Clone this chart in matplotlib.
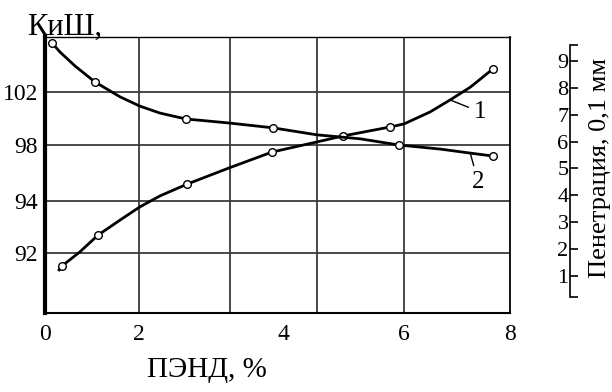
import numpy as np
import matplotlib.pyplot as plt
from matplotlib.ticker import FixedLocator

plt.rcParams['font.family'] = ['Liberation Serif', 'DejaVu Serif']

# curve 1: КиШ vs ПЭНД content
kish_x = [0.30, 0.36, 0.74, 1.13, 1.60, 2.01, 2.29, 2.67, 3.25, 3.85,
          4.56, 4.99, 5.77, 6.00, 6.49, 6.87, 7.25, 7.68]
kish_y = [91.35, 91.5, 92.04, 92.69, 93.27, 93.77, 94.36, 95.21, 96.36, 97.5,
          98.23, 98.68, 99.36, 99.59, 100.49, 101.4, 102.36, 103.75]
kish_marks = [1, 3, 7, 9, 11, 12, 17]

# curve 2: penetration, 0.1 mm
pen_x = [0.15, 0.32, 0.64, 1.06, 1.60, 2.01, 2.29, 2.65, 3.25, 3.86,
         4.56, 5.28, 5.92, 6.68, 7.25, 7.68]
pen_y = [9.67, 9.33, 8.81, 8.22, 7.66, 7.32, 7.06, 6.84, 6.69, 6.51,
         6.25, 6.10, 5.87, 5.72, 5.57, 5.46]
pen_marks = [0, 3, 7, 9, 12, 15]

x_ticks = [0, 2, 4, 6, 8]
x_grid = [2, 3.26, 4.56, 6]
kish_ticks = [102, 98, 94, 92]
pen_ticks = [1, 2, 3, 4, 5, 6, 7, 8, 9]


def piecewise(vals, pos):
    # uneven axis: linear between knots, end slopes carried outward
    v = np.asarray(vals, float)
    p = np.asarray(pos, float)
    v = np.r_[v[0] - 100 * (v[1] - v[0]), v, v[-1] + 100 * (v[-1] - v[-2])]
    p = np.r_[p[0] - 100 * (p[1] - p[0]), p, p[-1] + 100 * (p[-1] - p[-2])]
    return (lambda a: np.interp(a, v, p)), (lambda b: np.interp(b, p, v))


fx, ix = piecewise([0, 2, 4, 6, 8], [0, 94, 238, 359, 465])
fy, iy = piecewise([92, 94, 98, 102], [60, 112, 168, 221])

fig = plt.figure(figsize=(6.12, 3.92), dpi=100)
ax = fig.add_axes([45 / 612, 79 / 392, 465 / 612, 276 / 392])
ax.set_xscale('function', functions=(fx, ix))
ax.set_yscale('function', functions=(fy, iy))
ax.set_xlim(0, 8)
ax.set_ylim(iy(0), iy(276))

for gx in x_grid:
    ax.axvline(gx, color='#3a3a3a', lw=1.3, zorder=1)
for gy in kish_ticks:
    ax.axhline(gy, color='#3a3a3a', lw=1.3, zorder=1)

ax.plot(kish_x, kish_y, color='black', lw=2.0, marker='o', markevery=kish_marks,
        ms=5.5, mfc='white', mec='black', mew=1.0, zorder=3)

ax.set_xticks(x_ticks)
ax.set_xticklabels([str(t) for t in x_ticks])
ax.set_yticks(kish_ticks)
ax.set_yticklabels([str(t) for t in kish_ticks])
ax.xaxis.set_minor_locator(FixedLocator([]))
ax.yaxis.set_minor_locator(FixedLocator([]))
ax.tick_params(axis='x', length=0, pad=8, labelsize=17)
ax.tick_params(axis='y', length=0, pad=5, labelsize=17)

ax.spines['left'].set_linewidth(3)
ax.spines['bottom'].set_linewidth(1.5)
ax.spines['right'].set_linewidth(1.3)
ax.spines['top'].set_linewidth(1.0)

ax.annotate('1', xy=(kish_x[15], kish_y[15]), xytext=(30, -12),
            textcoords='offset pixels', ha='center', va='center', fontsize=18,
            arrowprops=dict(arrowstyle='-', lw=1, color='black', shrinkA=2, shrinkB=0))

# penetration on a separate axis to the right
ax2 = ax.twinx()
ax2.set_ylim(-0.38, 9.89)
for s in ['top', 'bottom', 'right']:
    ax2.spines[s].set_visible(False)
ax2.spines['left'].set_visible(True)
ax2.spines['left'].set_position(('axes', 525 / 465))
ax2.spines['left'].set_bounds(0.21, 9.60)
ax2.spines['left'].set_linewidth(1.2)
ax2.yaxis.tick_left()
ax2.set_yticks(pen_ticks)
ax2.yaxis.set_minor_locator(FixedLocator([0.21, 9.60]))
ax2.tick_params(axis='y', which='both', direction='in', length=6, width=1.2,
                pad=1, labelsize=16)

ax2.plot(pen_x, pen_y, color='black', lw=2.0, marker='o', markevery=pen_marks,
         ms=5.5, mfc='white', mec='black', mew=1.0, zorder=3)
ax2.annotate('2', xy=(pen_x[14], pen_y[14]), xytext=(8, -29),
             textcoords='offset pixels', ha='center', va='center', fontsize=18,
             arrowprops=dict(arrowstyle='-', lw=1, color='black', shrinkA=2, shrinkB=0))

ax2.text(1.2065, 0.525, 'Пенетрация, 0,1 мм', rotation=90, rotation_mode='anchor',
         ha='center', va='baseline', transform=ax2.transAxes, fontsize=19)

fig.text(27 / 612, (392 - 35) / 392, 'КиШ,', ha='left', va='baseline', fontsize=22)
fig.text(207 / 612, (392 - 377) / 392, 'ПЭНД, %', ha='center', va='baseline', fontsize=21)

fig.savefig('out.png', dpi=100)
